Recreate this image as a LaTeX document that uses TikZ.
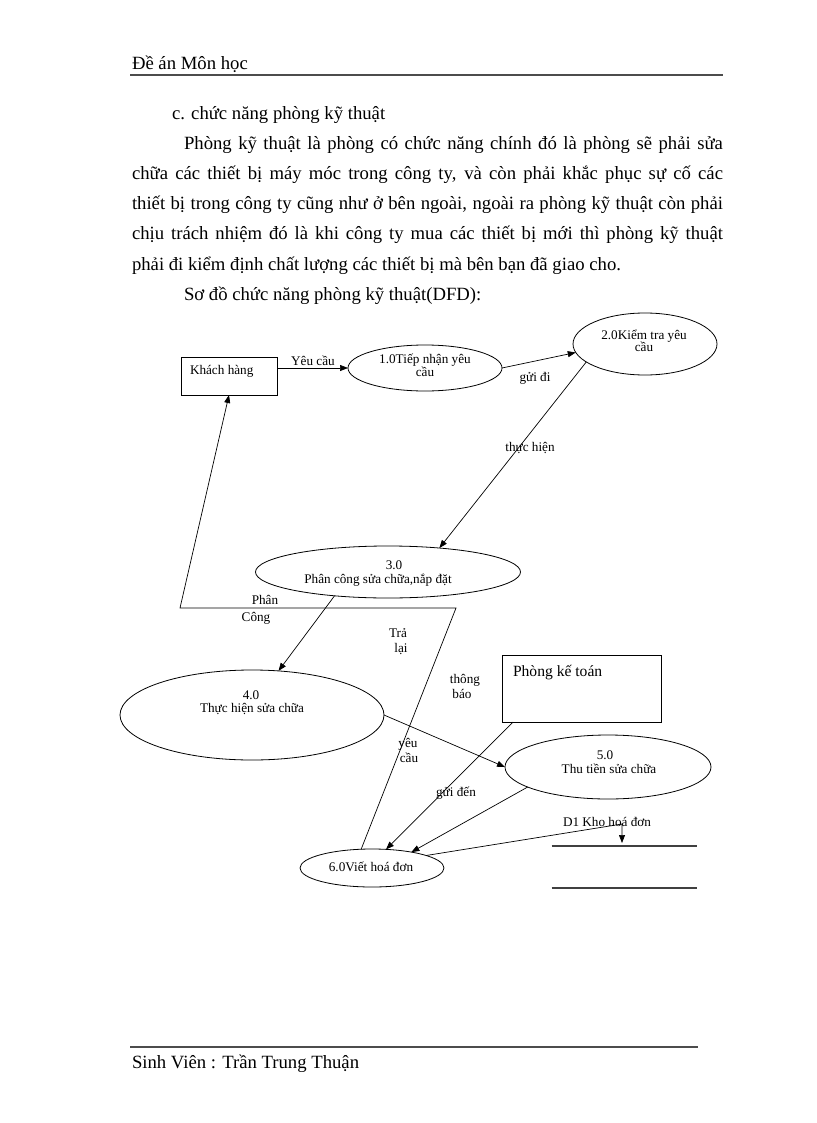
\documentclass[tikz,border=0pt]{standalone}
\usepackage{fontspec}
\setmainfont{Liberation Serif}
\usetikzlibrary{arrows.meta,shapes.geometric,calc}

\begin{document}
\begin{tikzpicture}[x=1pt,y=-1pt,
  every node/.style={inner sep=0pt, outer sep=0pt},
  body/.style={anchor=base west, font=\fontsize{18.7}{22}\selectfont},
  proc/.style={draw, ellipse, line width=0.8pt},
  ent/.style={draw, rectangle, line width=0.8pt},
  lbl/.style={anchor=base, font=\fontsize{13.2}{15}\selectfont},
  flow/.style={line width=0.7pt, -{Triangle[length=8pt,width=6pt]}},
  storeline/.style={line width=1.2pt, draw=black!75},
  rulestyle/.style={line width=1.8pt, draw=black!70}
]
\useasboundingbox (0,0) rectangle (816,1123);

% header / footer
\node[body] (hdr) at (132,70) {Đề án Môn học};
\coordinate (hl1) at (130,75); \coordinate (hl2) at (723,75);
\draw[rulestyle] (hl1) -- (hl2);
\coordinate (fl1) at (130,1047); \coordinate (fl2) at (698,1047);
\draw[rulestyle] (fl1) -- (fl2);
\node[body] (ftr) at (132,1068) {Sinh Viên : Trần Trung Thuận};

% body text
\node[body] (t1) at (172,120) {c. chức năng phòng kỹ thuật};
\node[body] (t2) at (184,150) {\makebox[539pt][s]{Phòng kỹ thuật là phòng có chức năng chính đó là phòng sẽ phải sửa}};
\node[body] (t3) at (132,180) {\makebox[591pt][s]{chữa các thiết bị máy móc trong công ty, và còn phải khắc phục sự cố các}};
\node[body] (t4) at (132,210) {\makebox[591pt][s]{thiết bị trong công ty cũng như ở bên ngoài, ngoài ra phòng kỹ thuật còn phải}};
\node[body] (t5) at (132,240) {\makebox[591pt][s]{chịu trách nhiệm đó là khi công ty mua các thiết bị mới thì phòng kỹ thuật}};
\node[body] (t6) at (132,270) {phải đi kiểm định chất lượng các thiết bị mà bên bạn đã giao cho.};
\node[body] (t7) at (184,300) {Sơ đồ chức năng phòng kỹ thuật(DFD):};

% entities
\node[ent, minimum width=96pt, minimum height=38pt] (kh) at (229,376) {};
\node[lbl, anchor=base west] (khT) at (190,374) {Khách hàng};
\node[ent, minimum width=159pt, minimum height=67pt] (kt) at (581.5,688.5) {};
\node[anchor=base west, font=\fontsize{15.6}{17}\selectfont] (ktT) at (513,676) {Phòng kế toán};

% processes
\node[proc, minimum width=154pt, minimum height=46pt] (n1) at (425,368) {};
\node[lbl] (n1a) at (425,363) {1.0Tiếp nhận yêu};
\node[lbl] (n1b) at (425,376) {cầu};

\node[proc, minimum width=144pt, minimum height=62pt] (n2) at (645,344) {};
\node[lbl] (n2a) at (644,339) {2.0Kiểm tra yêu};
\node[lbl] (n2b) at (644,351) {cầu};

\node[proc, minimum width=265pt, minimum height=52pt] (n3) at (388,572) {};
\node[lbl] (n3a) at (394,569) {3.0};
\node[lbl] (n3b) at (378,583) {Phân công sửa chữa,nắp đặt};

\node[proc, minimum width=264pt, minimum height=90pt] (n4) at (252,715) {};
\node[lbl] (n4a) at (251,699) {4.0};
\node[lbl] (n4b) at (252,712) {Thực hiện sửa chữa};

\node[proc, minimum width=206pt, minimum height=64pt] (n5) at (608,767) {};
\node[lbl] (n5a) at (605,759) {5.0};
\node[lbl] (n5b) at (609,773) {Thu tiền sửa chữa};

\node[proc, minimum width=144pt, minimum height=38pt] (n6) at (372,868) {};
\node[lbl] (n6a) at (371,871) {6.0Viết hoá đơn};

% data store
\node[minimum width=145pt, minimum height=42pt] (d1) at (624,867) {};
\draw[storeline] (d1.north west) -- (d1.north east);
\draw[storeline] (d1.south west) -- (d1.south east);
\node[lbl] (d1T) at (607,826) {D1 Kho hoá đơn};

% flows
\draw[flow] (kh.east |- n1.west) -- (n1.west);
\draw[flow] (n1.east) -- (n2.187);
\draw[flow] (n2.197) -- (n3.25);
\draw[flow] (n3.204) -- (n4.59);
\draw[flow] (n4.east) -- (n5.west);
\coordinate (c1) at (456,608);
\coordinate (c2) at (180,608);
\draw[flow] (n6.120) -- (c1) -- (c2) -- (kh.south);
\draw[flow] ($(kt.south west)+(11,0)$) -- (n6.53);
\draw[flow] (n5.194) -- (n6.22);
\coordinate (c3) at (622,824);
\draw[flow, shorten >=3pt] (n6.13) -- (c3) -- (c3 |- d1.north);

% flow labels
\node[lbl] (lyc) at (313,365) {Yêu cầu};
\node[lbl] (lgd) at (535,381) {gửi đi};
\node[lbl] (lth) at (530,451) {thực hiện};
\node[lbl] (lpc1) at (265,604) {Phân};
\node[lbl] (lpc2) at (256,621) {Công};
\node[lbl] (ltl1) at (398,637) {Trả};
\node[lbl] (ltl2) at (401,652) {lại};
\node[lbl] (ltb1) at (465,683) {thông};
\node[lbl] (ltb2) at (462,698) {báo};
\node[lbl] (lyc1) at (408,747) {yêu};
\node[lbl] (lyc2) at (409,762) {cầu};
\node[lbl] (lgden) at (456,796) {gửi đến};
\end{tikzpicture}
\end{document}
